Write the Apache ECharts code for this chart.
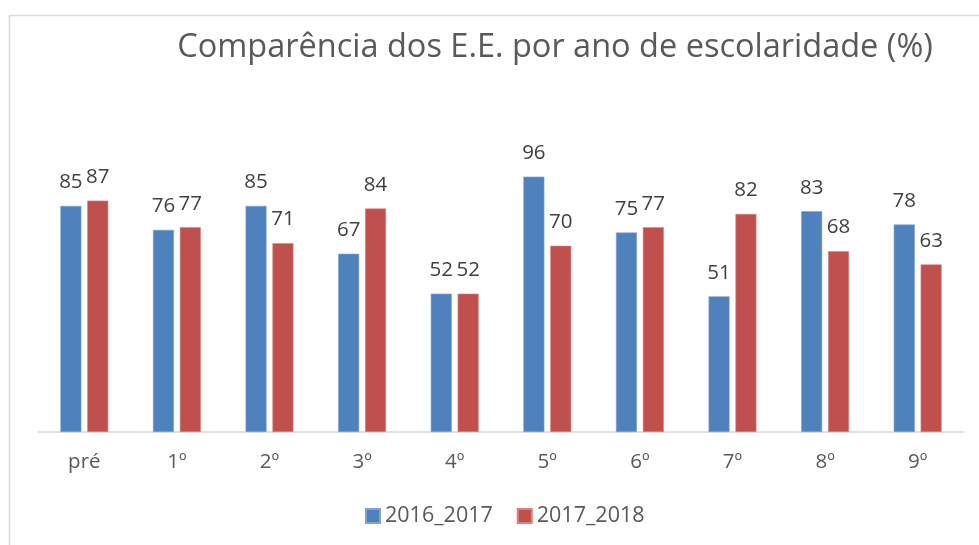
<!DOCTYPE html>
<html>
<head>
<meta charset="utf-8">
<script src="https://cdn.jsdelivr.net/npm/echarts@6/dist/echarts.min.js"></script>
<style>html,body{margin:0;padding:0;background:#fff;}#c{width:979px;height:545px;}</style>
</head>
<body>
<div id="c"></div>
<script>
const categories = ['pré', '1º', '2º', '3º', '4º', '5º', '6º', '7º', '8º', '9º'];
const seriesNames = ['2016_2017', '2017_2018'];
const values2016 = [85, 76, 85, 67, 52, 96, 75, 51, 83, 78];
const values2017 = [87, 77, 71, 84, 52, 70, 77, 82, 68, 63];
const titleText = 'Comparência dos E.E. por ano de escolaridade (%)';

const chart = echarts.init(document.getElementById('c'), null, {renderer: 'canvas'});
const FONT = '"Open Sans", "Noto Sans", sans-serif';
const labelCfg = {
  show: true, position: 'top', distance: 13,
  color: '#404040', fontSize: 20.5, fontFamily: FONT
};
chart.setOption({
  animation: false,
  backgroundColor: '#fff',
  graphic: [{
    type: 'rect', silent: true,
    shape: {x: 9.5, y: 15.5, width: 1000, height: 600},
    style: {fill: 'none', stroke: '#d9d9d9', lineWidth: 1.5}
  }],
  title: {
    text: titleText, left: 550, top: 26, textAlign: 'center',
    textStyle: {color: '#595959', fontSize: 32.5, fontWeight: 'normal', fontFamily: FONT}
  },
  legend: {
    data: seriesNames, bottom: 13, left: 360,
    itemWidth: 14, itemHeight: 14, itemGap: 24,
    icon: 'rect',
    textStyle: {color: '#595959', fontSize: 21.5, fontFamily: FONT}
  },
  grid: {left: 38, right: 15, top: 166, bottom: 113},
  xAxis: {
    type: 'category', data: categories,
    axisLine: {lineStyle: {color: '#d9d9d9', width: 1.5}},
    axisTick: {show: false},
    axisLabel: {color: '#595959', fontSize: 20.5, fontFamily: FONT, margin: 20}
  },
  yAxis: {
    type: 'value', min: 0, max: 100, show: false,
    splitLine: {show: false}
  },
  series: [
    {name: seriesNames[0], type: 'bar', data: values2016, barWidth: 21, barGap: '28%',
     itemStyle: {color: '#4F81BD', borderColor: '#7fa3d1', borderWidth: 0.6}, label: labelCfg},
    {name: seriesNames[1], type: 'bar', data: values2017, barWidth: 21, barGap: '28%',
     itemStyle: {color: '#C0504D', borderColor: '#d68482', borderWidth: 0.6}, label: labelCfg}
  ]
});
</script>
</body>
</html>
